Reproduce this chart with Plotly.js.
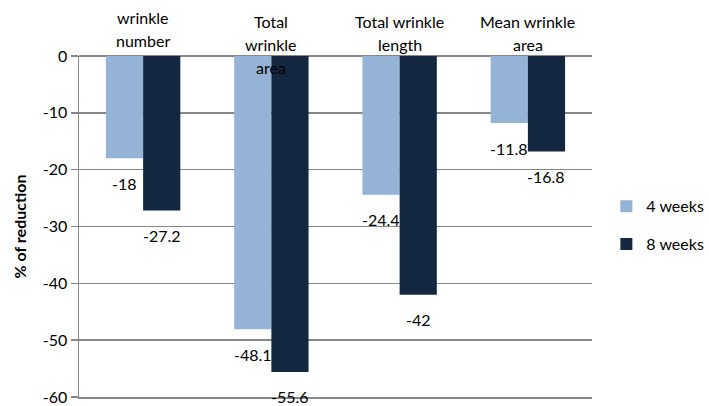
<!DOCTYPE html>
<html>
<head>
<meta charset="utf-8">
<script src="https://cdn.plot.ly/plotly-3.0.1.min.js"></script>
<style>html,body{margin:0;padding:0;background:#fff;}#chart{width:709px;height:406px;}</style>
</head>
<body>
<div id="chart"></div>
<script>
// ---- data ----
const categories = ["wrinkle<br>number", "Total<br>wrinkle<br>area", "Total wrinkle<br>length", "Mean wrinkle<br>area"];
const seriesNames = ["4 weeks", "8 weeks"];
const weeks4 = [-18, -48.1, -24.4, -11.8];
const weeks8 = [-27.2, -55.6, -42, -16.8];
const yTickVals = [0, -10, -20, -30, -40, -50, -60];

// ---- styling ----
const FONT = "Lato, 'Open Sans', sans-serif";
const colors = ["#95B3D7", "#132741"];
const grid = "#888888";
const catIdx = categories.map((_, i) => i);

const traces = [weeks4, weeks8].map((vals, k) => ({
  type: "bar",
  x: catIdx,
  y: vals,
  name: seriesNames[k],
  legendgroup: "g" + k,
  marker: {color: colors[k]},
  hoverinfo: "skip"
}));

const annotations = [];
// value labels under bar ends
[weeks4, weeks8].forEach((vals, k) => {
  vals.forEach((v, i) => {
    annotations.push({
      x: i, y: v, xref: "x", yref: "y",
      xshift: k === 0 ? -18.5 : 18.5, yshift: -25,
      text: String(v), showarrow: false,
      font: {family: FONT, size: 16, color: "#000"}
    });
  });
});
// category labels above plot, one annotation per line
const labelTopPx = [17, 21, 21, 21];
const plotTop = 56, plotBottom = 397, lineGap = 23.3;
categories.forEach((lab, i) => {
  lab.split("<br>").forEach((line, j) => {
    const py = labelTopPx[i] + j * lineGap;
    annotations.push({
      x: i, xref: "x", yref: "paper",
      y: (plotBottom - py) / (plotBottom - plotTop),
      yanchor: "middle",
      text: line, showarrow: false,
      font: {family: FONT, size: 16, color: "#000"}
    });
  });
});

const layout = {
  width: 709, height: 406,
  margin: {l: 79, r: 117, t: 56, b: 9, autoexpand: false},
  paper_bgcolor: "#fff", plot_bgcolor: "#fff",
  barmode: "group",
  bargap: 0.42, bargroupgap: 0,
  font: {family: FONT, size: 16, color: "#000"},
  xaxis: {
    type: "linear", range: [-0.5, 3.5],
    showticklabels: false, showgrid: false, zeroline: false,
    showline: true, linecolor: grid, linewidth: 1.5, ticks: ""
  },
  yaxis: {
    range: [-60, 0], tickvals: yTickVals, ticktext: yTickVals.map(String),
    showgrid: true, gridcolor: grid, gridwidth: 1.5,
    zeroline: true, zerolinecolor: grid, zerolinewidth: 1.5,
    showline: true, linecolor: grid, linewidth: 1.5,
    ticks: "outside", ticklen: 7, tickcolor: grid, tickwidth: 1.5,
    tickfont: {family: FONT, size: 16, color: "#000"},
    title: {text: "<b>% of reduction</b>", font: {family: FONT, size: 16, color: "#000"}, standoff: 12}
  },
  legend: {
    x: 1.028, xanchor: "left", y: 0.609, yanchor: "top",
    font: {family: FONT, size: 16, color: "#000"},
    tracegroupgap: 14, itemwidth: 30
  },
  showlegend: true,
  annotations: annotations
};

Plotly.newPlot("chart", traces, layout, {displayModeBar: false, staticPlot: true});
</script>
</body>
</html>
